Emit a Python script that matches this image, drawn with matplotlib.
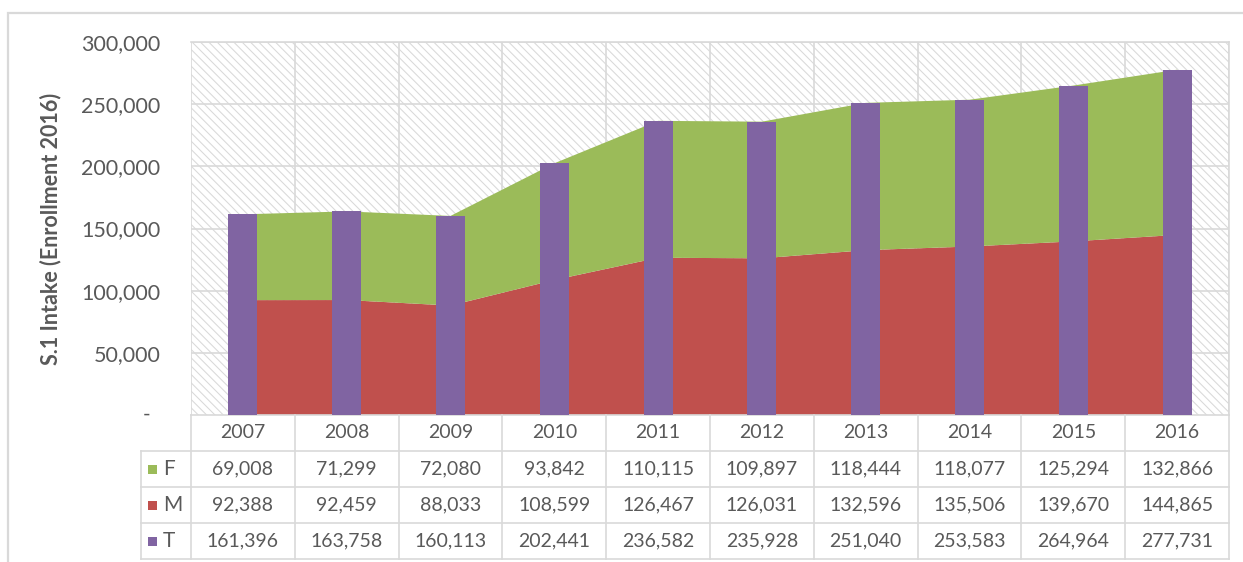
import matplotlib.pyplot as plt
import matplotlib.transforms as mtransforms
from matplotlib.patches import Rectangle

plt.rcParams['font.family'] = ['Lato', 'DejaVu Sans']
plt.rcParams['hatch.color'] = '#d9d9d9'
plt.rcParams['hatch.linewidth'] = 0.75

years = ['2007', '2008', '2009', '2010', '2011', '2012', '2013', '2014', '2015', '2016']
female = [69008, 71299, 72080, 93842, 110115, 109897, 118444, 118077, 125294, 132866]
male = [92388, 92459, 88033, 108599, 126467, 126031, 132596, 135506, 139670, 144865]
total = [161396, 163758, 160113, 202441, 236582, 235928, 251040, 253583, 264964, 277731]

c_f = '#9bbb59'
c_m = '#c0504d'
c_t = '#8064a2'
grey = '#595959'
line = '#d9d9d9'

fig = plt.figure(figsize=(12.43, 5.62), dpi=100)
ax = fig.add_axes([191/1243, 1 - 415/562, 1038/1243, 373/562])

x = list(range(len(years)))

# hatched plot area
ax.add_patch(Rectangle((0, 0), 1, 1, transform=ax.transAxes, facecolor='white',
                       edgecolor='#d9d9d9', hatch='\\\\\\\\', linewidth=0, zorder=0))

ax.stackplot(x, male, female, colors=[c_m, c_f], zorder=2, linewidth=0)
ax.bar(x, total, width=0.28, color=c_t, zorder=3)

ax.set_xlim(-0.5, 9.5)
ax.set_ylim(0, 300000)
ax.set_yticks(range(0, 300001, 50000))
ax.set_yticklabels([''] + ['{:,}'.format(v) for v in range(50000, 300001, 50000)],
                   fontsize=15.5, color=grey)
ax.tick_params(axis='y', length=0, pad=22)
ax.set_xticks([])
for v in range(50000, 300001, 50000):
    ax.axhline(v, color=line, lw=1.2, zorder=1)
for k in range(11):
    ax.axvline(k - 0.5, color=line, lw=1.2, zorder=1)
for s in ax.spines.values():
    s.set_color(line)
    s.set_linewidth(1.2)
ax.spines['left'].set_visible(False)
ax.text(-41/1038, 0, '-', transform=ax.transAxes, ha='right', va='center',
        fontsize=15, color=grey)

ax.set_ylabel('S.1 Intake (Enrollment 2016)', fontsize=15.5, fontweight='bold',
              color=grey, labelpad=14)

# data table below the axis
tr = mtransforms.blended_transform_factory(ax.transData, ax.transAxes)
rh = 36/373
left = -0.5 - 50/103.8
kw = dict(transform=tr, clip_on=False, color=line, lw=1.2)
for k in range(11):
    ax.plot([k - 0.5, k - 0.5], [0, -4*rh], **kw)
ax.plot([left, left], [-rh, -4*rh], **kw)
for r in range(1, 5):
    ax.plot([left, 9.5], [-r*rh, -r*rh], **kw)

for i, yr in enumerate(years):
    ax.text(i, -0.5*rh, yr, transform=tr, ha='center', va='center', fontsize=14, color=grey)

rows = [('F', female, c_f), ('M', male, c_m), ('T', total, c_t)]
for r, (name, vals, col) in enumerate(rows):
    yc = -(r + 1.5)*rh
    ax.add_patch(Rectangle((-0.5 - 43/103.8, yc - 4.5/373), 9/103.8, 9/373, transform=tr,
                           facecolor=col, edgecolor='none', clip_on=False))
    ax.text(-0.5 - 28/103.8, yc, name, transform=tr, ha='left', va='center',
            fontsize=15, color=grey)
    for i, v in enumerate(vals):
        ax.text(i, yc, '{:,}'.format(v), transform=tr, ha='center', va='center',
                fontsize=14, color=grey)

# chart border
fig.add_artist(Rectangle((8/1243, -0.1), 1.1, 1 - 13/562 + 0.1, transform=fig.transFigure,
                         facecolor='none', edgecolor=line, lw=1.6))

fig.savefig('out.png', dpi=100)
